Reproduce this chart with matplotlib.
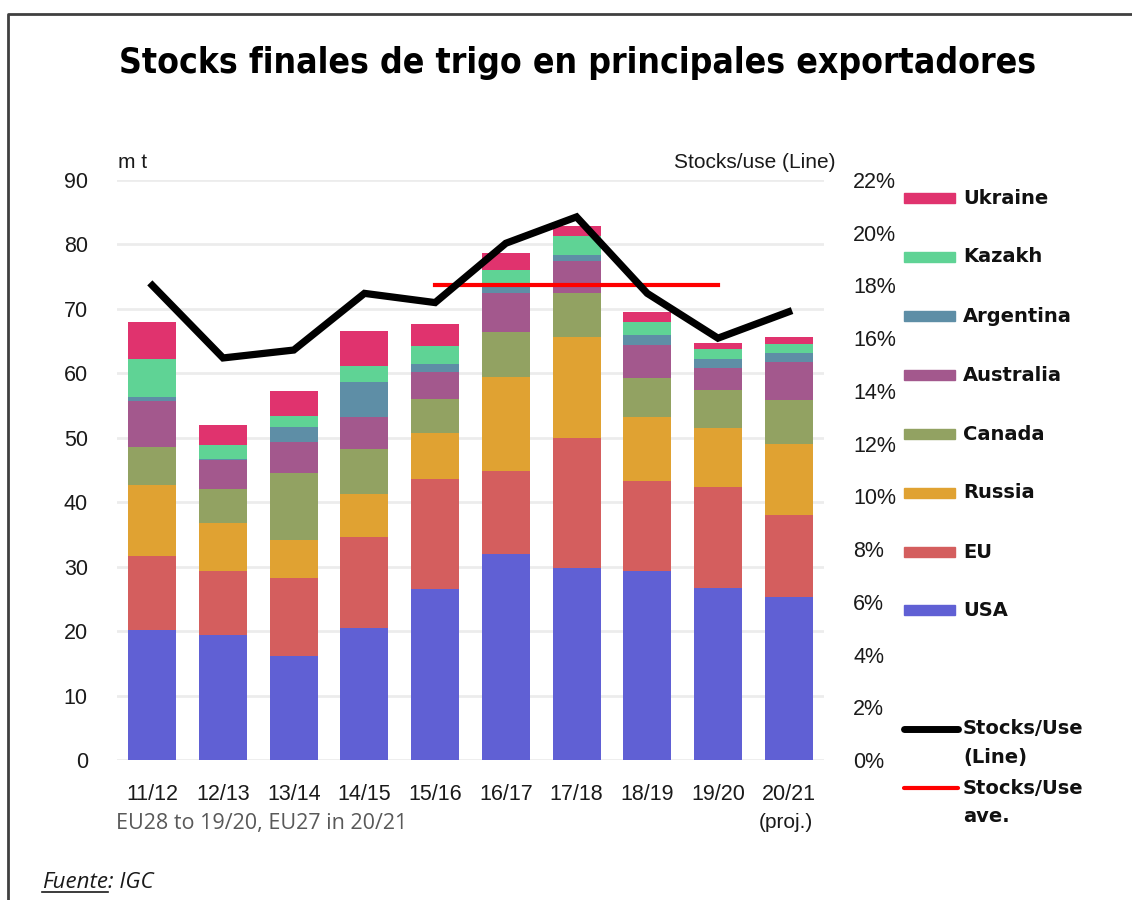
import matplotlib
matplotlib.use("Agg")
import matplotlib.pyplot as plt
from matplotlib.lines import Line2D
from matplotlib.patches import Rectangle
import numpy as np

seasons = ["11/12", "12/13", "13/14", "14/15", "15/16", "16/17", "17/18", "18/19", "19/20", "20/21"]
usa       = [20.2, 19.4, 16.1, 20.5, 26.6, 32.0, 29.8, 29.3, 26.7, 25.3]
eu        = [11.4, 10.0, 12.1, 14.1, 17.0, 12.9, 20.2, 14.0, 15.7, 12.7]
russia    = [11.0,  7.4,  5.9,  6.6,  7.1, 14.6, 15.6,  9.9,  9.1, 11.0]
canada    = [ 5.9,  5.2, 10.4,  7.0,  5.3,  6.9,  6.8,  6.1,  5.9,  6.9]
australia = [ 7.2,  4.6,  4.9,  5.1,  4.2,  6.0,  5.1,  5.1,  3.4,  5.8]
argentina = [ 0.7,  0.1,  2.3,  5.3,  1.2,  1.3,  0.9,  1.6,  1.5,  1.5]
kazakh    = [ 5.9,  2.2,  1.7,  2.6,  2.8,  2.4,  2.9,  1.9,  1.5,  1.3]
ukraine   = [ 5.6,  3.1,  3.8,  5.4,  3.4,  2.6,  1.6,  1.6,  0.9,  1.1]
stocks_use = [18.0, 15.25, 15.55, 17.7, 17.35, 19.6, 20.6, 17.7, 16.0, 17.0]
stocks_use_ave = [np.nan, np.nan, np.nan, np.nan, 18.0, 18.0, 18.0, 18.0, 18.0, np.nan]

series_names = ["USA", "EU", "Russia", "Canada", "Australia", "Argentina", "Kazakh", "Ukraine"]
series_vals = [usa, eu, russia, canada, australia, argentina, kazakh, ukraine]
colors = {"USA": "#6060d4", "EU": "#d45e5e", "Russia": "#e0a232", "Canada": "#92a262",
          "Australia": "#a3588d", "Argentina": "#5e8ea6", "Kazakh": "#5fd395", "Ukraine": "#e0336e"}

W, H = 1132, 900
fig = plt.figure(figsize=(W / 100, H / 100), dpi=100)
fig.patch.set_facecolor("white")

def fx(px):
    return px / W

def fy(py):
    return 1 - py / H

ax = fig.add_axes([fx(117), fy(760), fx(824) - fx(117), fy(180) - fy(760)])
x = np.arange(len(seasons))
bottom = np.zeros(len(seasons))
for name, vals in zip(series_names, series_vals):
    ax.bar(x, vals, width=0.68, bottom=bottom, color=colors[name], zorder=2, linewidth=0)
    bottom += np.array(vals)

ax.set_xlim(-0.5, len(seasons) - 0.5)
ax.set_ylim(0, 90)
ax.set_yticks(np.arange(0, 91, 10))
ax.grid(axis="y", color="#ececec", linewidth=2, zorder=0)
ax.set_axisbelow(True)
for s in ax.spines.values():
    s.set_visible(False)
ax.tick_params(axis="both", length=0, labelsize=15.5, colors="#1a1a1a")
ax.tick_params(axis="y", pad=21)
ax.tick_params(axis="x", pad=17)
ax.set_xticks(x)
ax.set_xticklabels(seasons, fontfamily="Liberation Sans")
for lab in ax.get_yticklabels():
    lab.set_fontfamily("Liberation Sans")

ax2 = ax.twinx()
ax2.set_ylim(0, 22)
ax2.set_yticks(np.arange(0, 23, 2))
ax2.set_yticklabels([f"{v}%" for v in range(0, 23, 2)], fontfamily="Liberation Sans")
ax2.tick_params(axis="y", length=0, labelsize=15.5, colors="#1a1a1a", pad=21)
for s in ax2.spines.values():
    s.set_visible(False)
ax2.plot(x, stocks_use, color="black", linewidth=5.2, zorder=4, solid_joinstyle="miter")
ax2.plot(x, stocks_use_ave, color="#ff0000", linewidth=3, zorder=3)

# axis captions
fig.text(fx(118), fy(162), "m t", fontsize=15, fontfamily="Liberation Sans", va="center", ha="left", color="#1a1a1a")
fig.text(fx(835), fy(163), "Stocks/use (Line)", fontsize=15, fontfamily="Liberation Sans", va="center", ha="right", color="#1a1a1a")
fig.text(fx(786), fy(823), "(proj.)", fontsize=15, fontfamily="Liberation Sans", va="center", ha="center", color="#1a1a1a")
fig.text(fx(116), fy(823), "EU28 to 19/20, EU27 in 20/21", fontsize=15.5, fontfamily="Open Sans",
         va="center", ha="left", color="#595959")

# title
fig.text(fx(578), fy(63), "Stocks finales de trigo en principales exportadores",
         fontsize=25.5, fontweight="bold", fontfamily=["Liberation Sans Narrow", "DejaVu Sans"],
         fontstretch="condensed", ha="center", va="center", color="black")

# legend (manual)
leg_y = {"Ukraine": 198, "Kazakh": 257, "Argentina": 316, "Australia": 375,
         "Canada": 434, "Russia": 493, "EU": 552, "USA": 610}
for name in ["Ukraine", "Kazakh", "Argentina", "Australia", "Canada", "Russia", "EU", "USA"]:
    yy = leg_y[name]
    fig.patches.append(Rectangle((fx(904), fy(yy + 5)), fx(955) - fx(904), fy(yy - 5) - fy(yy + 5),
                                 transform=fig.transFigure, color=colors[name]))
    fig.text(fx(963), fy(yy), name, fontsize=14, fontweight="bold", fontfamily="DejaVu Sans",
             va="center", ha="left", color="#111111")

fig.add_artist(Line2D([fx(904), fx(958)], [fy(729), fy(729)], color="black", linewidth=5,
                      solid_capstyle="round", transform=fig.transFigure))
fig.text(fx(963), fy(729), "Stocks/Use", fontsize=14, fontweight="bold", fontfamily="DejaVu Sans", va="center", ha="left", color="#111111")
fig.text(fx(963), fy(757), "(Line)", fontsize=14, fontweight="bold", fontfamily="DejaVu Sans", va="center", ha="left", color="#111111")
fig.add_artist(Line2D([fx(904), fx(958)], [fy(788), fy(788)], color="#ff0000", linewidth=3,
                      solid_capstyle="round", transform=fig.transFigure))
fig.text(fx(963), fy(788), "Stocks/Use", fontsize=14, fontweight="bold", fontfamily="DejaVu Sans", va="center", ha="left", color="#111111")
fig.text(fx(963), fy(816), "ave.", fontsize=14, fontweight="bold", fontfamily="DejaVu Sans", va="center", ha="left", color="#111111")

# frame
fig.add_artist(Line2D([fx(8), fx(8), fx(1132)], [0, fy(14), fy(14)], color="#404040", linewidth=2,
                      transform=fig.transFigure))

# source
t1 = fig.text(fx(42), fy(883), "Fuente", fontsize=16, fontstyle="italic", fontfamily="Open Sans",
              va="center", ha="left", color="#1a1a1a")
fig.canvas.draw()
r = fig.canvas.get_renderer()
bb = t1.get_window_extent(renderer=r)
fig.text(bb.x1 / W, fy(883), ": IGC", fontsize=16, fontstyle="italic", fontfamily="Open Sans",
         va="center", ha="left", color="#1a1a1a")
fig.add_artist(Line2D([bb.x0 / W, bb.x1 / W], [(bb.y0 + 2) / H, (bb.y0 + 2) / H], color="#1a1a1a",
                      linewidth=1.2, transform=fig.transFigure))

fig.savefig("out.png", dpi=100, facecolor="white")
